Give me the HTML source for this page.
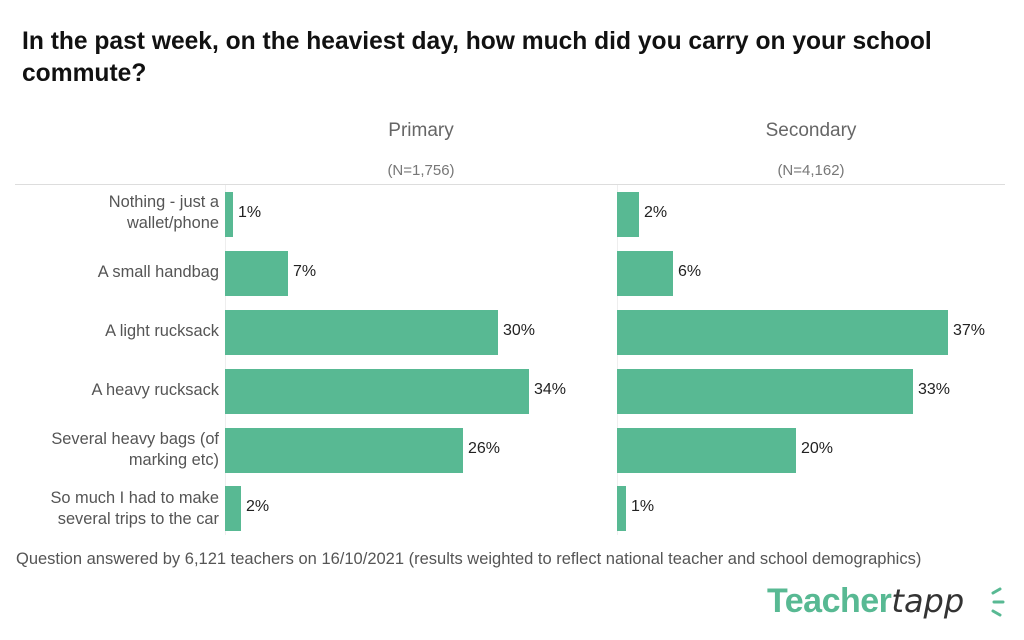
<!DOCTYPE html>
<html><head><meta charset="utf-8"><style>
body{margin:0;width:1024px;height:640px;background:#fff;font-family:"Liberation Sans",sans-serif;position:relative;overflow:hidden}
.a{position:absolute;white-space:nowrap}
.t{left:22px;top:26px;font-size:24.6px;font-weight:bold;color:#111;line-height:32px}
.h{font-size:19px;color:#666;text-align:center;width:300px}
.n{font-size:15px;color:#777;text-align:center;width:300px}
.l{font-size:16.4px;color:#555;text-align:right;right:805px;line-height:21px}
.b{background:#58b993;height:45px}
.v{font-size:16px;color:#222}
</style></head><body>
<div class="a t">In the past week, on the heaviest day, how much did you carry on your school<br>commute?</div>
<div class="a h" style="left:271px;top:120px">Primary</div>
<div class="a h" style="left:661px;top:120px">Secondary</div>
<div class="a n" style="left:271px;top:162px">(N=1,756)</div>
<div class="a n" style="left:661px;top:162px">(N=4,162)</div>
<div class="a" style="left:15px;top:184px;width:990px;height:1px;background:#ddd"></div>
<div class="a" style="left:225px;top:185px;width:1px;height:350px;background:#eee"></div>
<div class="a" style="left:617px;top:185px;width:1px;height:350px;background:#eee"></div>

<div class="a l" style="top:192px">Nothing - just a<br>wallet/phone</div>
<div class="a l" style="top:262px">A small handbag</div>
<div class="a l" style="top:321px">A light rucksack</div>
<div class="a l" style="top:380px">A heavy rucksack</div>
<div class="a l" style="top:429px">Several heavy bags (of<br>marking etc)</div>
<div class="a l" style="top:488px">So much I had to make<br>several trips to the car</div>

<div class="a b" style="left:225px;top:192px;width:8px"></div><div class="a v" style="left:238px;top:204px">1%</div>
<div class="a b" style="left:225px;top:251px;width:63px"></div><div class="a v" style="left:293px;top:263px">7%</div>
<div class="a b" style="left:225px;top:310px;width:273px"></div><div class="a v" style="left:503px;top:322px">30%</div>
<div class="a b" style="left:225px;top:369px;width:304px"></div><div class="a v" style="left:534px;top:381px">34%</div>
<div class="a b" style="left:225px;top:428px;width:238px"></div><div class="a v" style="left:468px;top:440px">26%</div>
<div class="a b" style="left:225px;top:486px;width:16px"></div><div class="a v" style="left:246px;top:498px">2%</div>

<div class="a b" style="left:617px;top:192px;width:22px"></div><div class="a v" style="left:644px;top:204px">2%</div>
<div class="a b" style="left:617px;top:251px;width:56px"></div><div class="a v" style="left:678px;top:263px">6%</div>
<div class="a b" style="left:617px;top:310px;width:331px"></div><div class="a v" style="left:953px;top:322px">37%</div>
<div class="a b" style="left:617px;top:369px;width:296px"></div><div class="a v" style="left:918px;top:381px">33%</div>
<div class="a b" style="left:617px;top:428px;width:179px"></div><div class="a v" style="left:801px;top:440px">20%</div>
<div class="a b" style="left:617px;top:486px;width:9px"></div><div class="a v" style="left:631px;top:498px">1%</div>

<div class="a" style="left:16px;top:550px;font-size:16.5px;color:#555">Question answered by 6,121 teachers on 16/10/2021 (results weighted to reflect national teacher and school demographics)</div>
<div class="a" style="left:767px;top:582px;font-size:34px;font-weight:bold;color:#58b993;letter-spacing:-0.5px">Teacher<span style="color:#333;font-weight:normal;font-style:italic;font-family:'DejaVu Sans',sans-serif;font-size:32px;letter-spacing:0px">tapp</span></div>
<svg class="a" style="left:990px;top:585px" width="25" height="35"><g stroke="#58b993" stroke-width="3" stroke-linecap="round"><line x1="3" y1="8" x2="10" y2="4"/><line x1="4" y1="17" x2="13" y2="17"/><line x1="3" y1="26" x2="10" y2="30"/></g></svg>
</body></html>
